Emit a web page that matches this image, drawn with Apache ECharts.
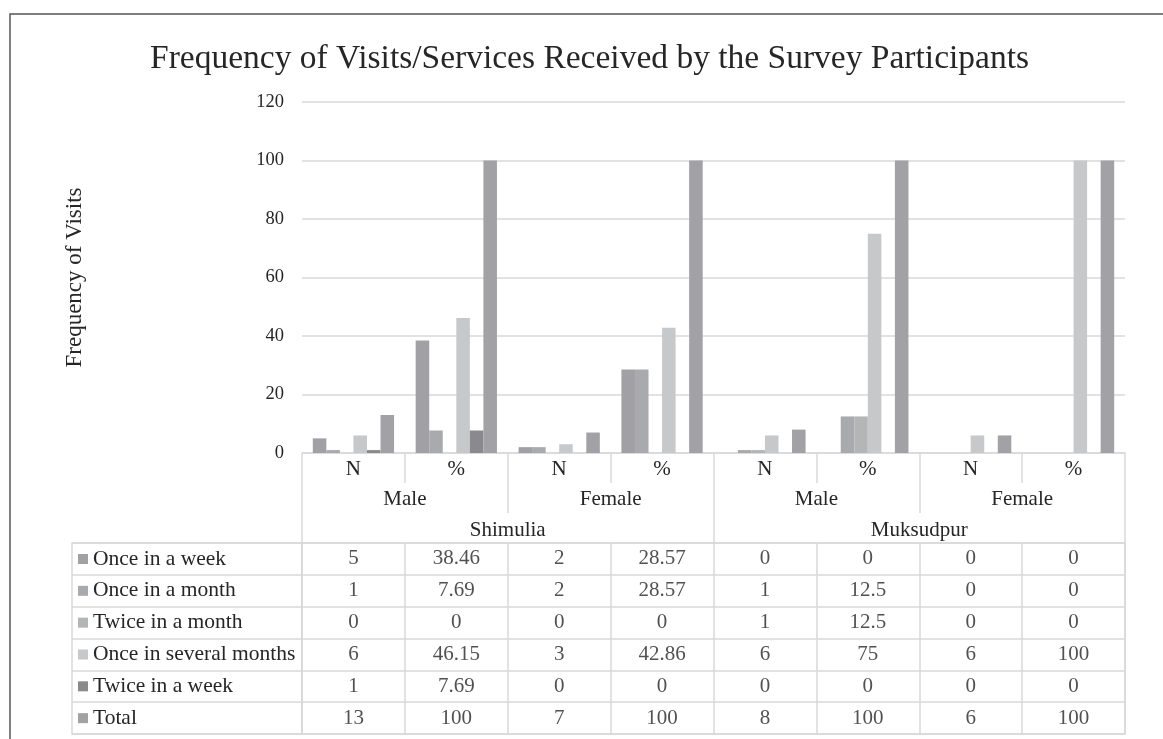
<!DOCTYPE html>
<html>
<head>
<meta charset="utf-8">
<script src="https://cdn.jsdelivr.net/npm/echarts@6/dist/echarts.min.js"></script>
<style>
html,body{margin:0;padding:0;background:#fff;}
#chart{width:1163px;height:739px;}
</style>
</head>
<body>
<div id="chart"></div>
<script>
// ---- data ----
var categories = ['N', '%', 'N', '%', 'N', '%', 'N', '%'];
var genders = ['Male', 'Female', 'Male', 'Female'];
var regions = ['Shimulia', 'Muksudpur'];
var seriesNames = ['Once in a week', 'Once in a month', 'Twice in a month', 'Once in several months', 'Twice in a week', 'Total'];
var onceInAWeek = [5, 38.46, 2, 28.57, 0, 0, 0, 0];
var onceInAMonth = [1, 7.69, 2, 28.57, 1, 12.5, 0, 0];
var twiceInAMonth = [0, 0, 0, 0, 1, 12.5, 0, 0];
var onceInSeveralMonths = [6, 46.15, 3, 42.86, 6, 75, 6, 100];
var twiceInAWeek = [1, 7.69, 0, 0, 0, 0, 0, 0];
var totalValues = [13, 100, 7, 100, 8, 100, 6, 100];
var yTicks = [0, 20, 40, 60, 80, 100, 120];

// ---- styling ----
var colors = ['#a1a1a5', '#a9aaad', '#b4b5b7', '#c7c8ca', '#8a8a8e', '#a2a2a6'];
var FONT = '"Liberation Serif", "Times New Roman", serif';
var TXT = '#262626';
var LINE = '#d9d9d9';
var FS = 21;

var seriesData = [onceInAWeek, onceInAMonth, twiceInAMonth, onceInSeveralMonths, twiceInAWeek, totalValues];

var plotLeft = 302, plotRight = 38, plotTop = 102, plotHeight = 351;
var tableTop = 543, tableHeight = 191;

var series = seriesData.map(function (arr, i) {
  return {
    name: seriesNames[i],
    type: 'bar',
    xAxisIndex: 0,
    yAxisIndex: 0,
    data: arr,
    barGap: 0,
    barCategoryGap: '21%',
    itemStyle: { color: colors[i] },
    animation: false
  };
});

var cellData = [];
seriesData.forEach(function (arr, ri) {
  arr.forEach(function (v, ci) { cellData.push([ci, ri, v]); });
});
series.push({
  name: 'tableValues',
  type: 'scatter',
  xAxisIndex: 4,
  yAxisIndex: 2,
  symbolSize: 1,
  itemStyle: { color: 'rgba(0,0,0,0)' },
  silent: true,
  animation: false,
  data: cellData,
  label: {
    show: true,
    position: 'inside',
    fontFamily: FONT,
    fontSize: FS,
    color: TXT,
    formatter: function (p) { return String(p.value[2]); }
  }
});

var option = {
  backgroundColor: '#fff',
  animation: false,
  title: {
    text: 'Frequency of Visits/Services Received by the Survey Participants',
    left: 150,
    top: 42,
    padding: 0,
    textStyle: { fontFamily: FONT, fontSize: 33.5, fontWeight: 'normal', color: TXT }
  },
  legend: {
    orient: 'vertical',
    left: 78,
    top: 548,
    padding: 0,
    itemWidth: 10,
    itemHeight: 10,
    itemGap: 9.83,
    icon: 'rect',
    selectedMode: false,
    data: seriesNames,
    textStyle: { fontFamily: FONT, fontSize: 21.5, color: TXT, lineHeight: 22 }
  },
  graphic: [{
    type: 'rect',
    shape: { x: 10, y: 14, width: 1300, height: 900 },
    style: { fill: 'none', stroke: '#555', lineWidth: 1.5 },
    silent: true
  }],
  grid: [
    { left: plotLeft, right: plotRight, top: plotTop, height: plotHeight, show: false },
    { left: 72, width: plotLeft - 72, top: tableTop, height: tableHeight, show: true, borderColor: LINE, borderWidth: 1.5 },
    { left: plotLeft, right: plotRight, top: tableTop, height: tableHeight, show: true, borderColor: LINE, borderWidth: 1.5 }
  ],
  xAxis: [
    {
      gridIndex: 0, type: 'category', data: categories, position: 'bottom', offset: 0,
      axisLine: { show: true, onZero: false, lineStyle: { color: LINE, width: 1.5 } },
      axisTick: { show: true, length: 30, interval: 0, lineStyle: { color: LINE, width: 1.5 } },
      axisLabel: { interval: 0, margin: 6, fontFamily: FONT, fontSize: FS, color: TXT },
      splitLine: { show: false }
    },
    {
      gridIndex: 0, type: 'category', data: genders, position: 'bottom', offset: 0,
      axisLine: { show: false, onZero: false },
      axisTick: { show: true, length: 60, interval: 0, lineStyle: { color: LINE, width: 1.5 } },
      axisLabel: { interval: 0, margin: 36, fontFamily: FONT, fontSize: FS, color: TXT },
      splitLine: { show: false }
    },
    {
      gridIndex: 0, type: 'category', data: regions, position: 'bottom', offset: 0,
      axisLine: { show: false, onZero: false },
      axisTick: { show: true, length: 90, interval: 0, lineStyle: { color: LINE, width: 1.5 } },
      axisLabel: { interval: 0, margin: 67, fontFamily: FONT, fontSize: FS, color: TXT },
      splitLine: { show: false }
    },
    { gridIndex: 1, type: 'value', min: 0, max: 1, show: false },
    {
      gridIndex: 2, type: 'category', data: categories,
      axisLine: { show: false }, axisTick: { show: false }, axisLabel: { show: false },
      splitLine: { show: true, interval: 0, lineStyle: { color: LINE, width: 1.5 } }
    }
  ],
  yAxis: [
    {
      gridIndex: 0, type: 'value', min: yTicks[0], max: yTicks[yTicks.length - 1], interval: 20,
      name: 'Frequency of Visits', nameLocation: 'middle', nameGap: 216, nameRotate: 90,
      nameTextStyle: { fontFamily: FONT, fontSize: 23, color: TXT },
      axisLine: { show: false }, axisTick: { show: false },
      axisLabel: { margin: 18, fontFamily: FONT, fontSize: 18.5, color: TXT },
      splitLine: { show: true, lineStyle: { color: LINE, width: 1.5 } }
    },
    {
      gridIndex: 1, type: 'category', data: seriesNames, inverse: true,
      axisLine: { show: false }, axisTick: { show: false }, axisLabel: { show: false },
      splitLine: { show: true, interval: 0, lineStyle: { color: LINE, width: 1.5 } }
    },
    {
      gridIndex: 2, type: 'category', data: seriesNames, inverse: true,
      axisLine: { show: false }, axisTick: { show: false }, axisLabel: { show: false },
      splitLine: { show: true, interval: 0, lineStyle: { color: LINE, width: 1.5 } }
    }
  ],
  series: series
};

var chart = echarts.init(document.getElementById('chart'), null, { renderer: 'canvas' });
chart.setOption(option);
</script>
</body>
</html>
